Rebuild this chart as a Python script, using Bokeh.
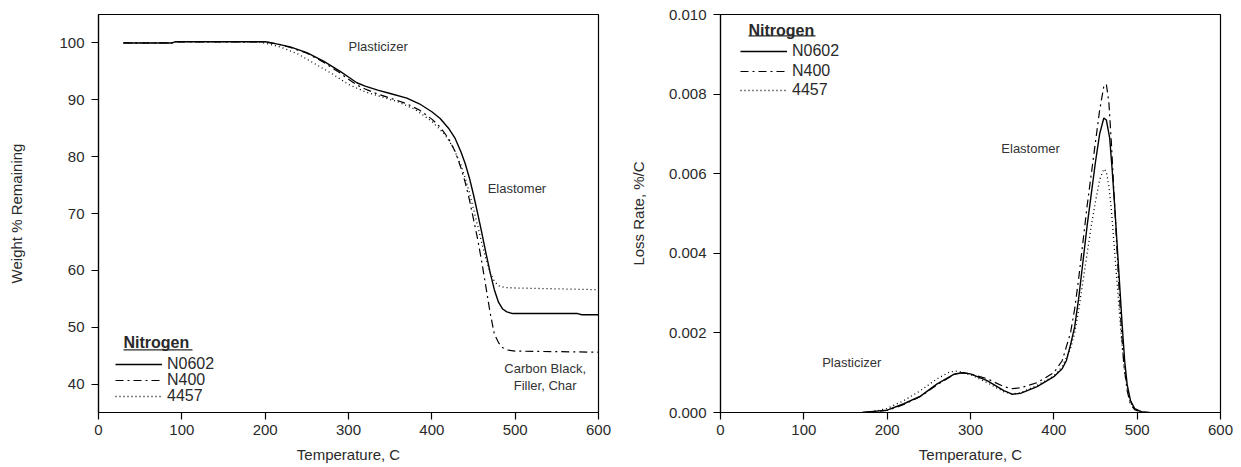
from bokeh.plotting import figure
from bokeh.layouts import row
from bokeh.models import (Legend, LegendItem, Label, BoxAnnotation, FixedTicker,
                          PrintfTickFormatter)
from bokeh.core.properties import value
from bokeh.embed import file_html
from bokeh.resources import INLINE

FONT = "Liberation Sans"

# ---------------- data: TGA weight % remaining ----------------
series_names = ["N0602", "N400", "4457"]

tga_n0602_t = [30, 88, 92, 200, 215, 230, 250, 270, 290, 300, 310, 320, 335, 350, 370, 385,
               400, 410, 420, 428, 435, 440, 445, 450, 455, 460, 465, 470, 475, 480, 485,
               490, 497, 575, 580, 600]
tga_n0602_w = [100.0, 100.0, 100.2, 100.2, 99.8, 99.3, 98.3, 96.8, 95.0, 94.0, 93.0, 92.4,
               91.7, 91.1, 90.3, 89.3, 87.9, 86.7, 85.0, 83.2, 80.8, 78.8, 76.3, 73.3, 70.0,
               66.6, 63.0, 59.6, 56.6, 54.4, 53.2, 52.7, 52.4, 52.4, 52.2, 52.2]

tga_n400_t = [30, 88, 92, 200, 215, 230, 250, 270, 290, 300, 310, 320, 335, 350, 370, 385,
              400, 410, 420, 428, 435, 440, 445, 450, 455, 460, 465, 470, 475, 480, 485,
              490, 500, 600]
tga_n400_w = [100.0, 100.0, 100.2, 100.2, 99.8, 99.2, 98.2, 96.6, 94.7, 93.6, 92.6, 91.9,
              91.0, 90.3, 89.3, 88.2, 86.6, 85.2, 83.2, 80.9, 78.0, 75.5, 72.5, 69.0, 65.5,
              61.4, 57.0, 52.5, 48.8, 47.3, 46.4, 46.0, 45.8, 45.6]

tga_4457_t = [30, 88, 92, 190, 205, 220, 240, 260, 280, 300, 320, 340, 360, 380, 400, 415,
              425, 435, 440, 445, 450, 455, 460, 465, 470, 475, 480, 487, 500, 600]
tga_4457_w = [100.0, 100.0, 100.2, 100.2, 99.8, 99.2, 98.0, 96.3, 94.6, 92.7, 91.4, 90.5,
              89.6, 88.3, 86.2, 84.0, 81.8, 78.5, 76.3, 73.7, 70.8, 67.8, 64.8, 62.0, 59.6,
              58.1, 57.3, 57.0, 56.9, 56.6]

# ---------------- data: DTG loss rate %/C ----------------
dtg_n0602_t = [170, 200, 220, 240, 260, 280, 290, 300, 320, 340, 350, 360, 380, 400, 410,
               415, 420, 425, 430, 435, 440, 445, 450, 455, 460, 463, 467, 470, 473, 476,
               479, 482, 485, 488, 492, 497, 505, 515]
dtg_n0602_r = [0.0, 0.00006, 0.00022, 0.00041, 0.00072, 0.00096, 0.00100, 0.00097, 0.00080,
               0.00055, 0.00046, 0.00048, 0.00065, 0.00090, 0.00110, 0.00130, 0.00170,
               0.00215, 0.00290, 0.00380, 0.00470, 0.00550, 0.00630, 0.00700, 0.00740,
               0.00735, 0.00690, 0.00610, 0.00520, 0.00420, 0.00320, 0.00220, 0.00130,
               0.00070, 0.00030, 0.00010, 0.00002, 0.0]

dtg_n400_t = [170, 200, 220, 240, 260, 280, 290, 300, 320, 340, 350, 360, 380, 400, 410,
              420, 425, 430, 435, 440, 445, 450, 455, 460, 463, 466, 469, 472, 475, 478,
              481, 484, 488, 492, 497, 505]
dtg_n400_r = [0.0, 0.00005, 0.00020, 0.00040, 0.00070, 0.00095, 0.00100, 0.00097, 0.00085,
              0.00065, 0.00060, 0.00062, 0.00075, 0.00100, 0.00130, 0.00200, 0.00260,
              0.00340, 0.00430, 0.00520, 0.00600, 0.00680, 0.00760, 0.00820, 0.00825,
              0.00780, 0.00680, 0.00560, 0.00440, 0.00320, 0.00210, 0.00120, 0.00055,
              0.00020, 0.00007, 0.0]

dtg_4457_t = [175, 190, 200, 220, 240, 260, 275, 285, 300, 320, 340, 350, 360, 380, 400, 410,
              420, 425, 430, 435, 440, 445, 450, 455, 460, 463, 466, 469, 472, 475, 478,
              481, 484, 488, 492, 497, 505]
dtg_4457_r = [0.0, 0.00005, 0.00010, 0.00030, 0.00055, 0.00085, 0.00102, 0.00104, 0.00095,
              0.00075, 0.00052, 0.00046, 0.00050, 0.00068, 0.00092, 0.00115, 0.00160,
              0.00200, 0.00260, 0.00330, 0.00400, 0.00470, 0.00530, 0.00585, 0.00612,
              0.00605, 0.00570, 0.00510, 0.00430, 0.00350, 0.00270, 0.00190, 0.00120,
              0.00060, 0.00025, 0.00008, 0.0]

# ---------------- ticks & annotations ----------------
x_ticks = [0, 100, 200, 300, 400, 500, 600]
tga_y_ticks = [40, 50, 60, 70, 80, 90, 100]
dtg_y_ticks = [0.000, 0.002, 0.004, 0.006, 0.008, 0.010]

tga_notes = ["Plasticizer", "Elastomer", "Carbon Black,", "Filler, Char"]
tga_notes_x = [300, 467, 536, 536]
tga_notes_y = [99.3, 74.4, 42.7, 39.7]
tga_notes_align = ["left", "left", "center", "center"]

dtg_notes = ["Elastomer", "Plasticizer"]
dtg_notes_x = [337, 122]
dtg_notes_y = [0.00664, 0.00125]

STYLES = {"N0602": dict(line_dash="solid", line_width=1.4),
          "N400": dict(line_dash="8 4 2 4", line_width=1.2),
          "4457": dict(line_dash="1 3", line_width=1.3)}


def style_axes(p, ylabel, y_ticks, y_standoff, fmt=None):
    p.outline_line_color = "black"
    p.outline_line_width = 1.2
    p.xgrid.visible = False
    p.ygrid.visible = False
    p.xaxis.ticker = FixedTicker(ticks=x_ticks)
    p.yaxis.ticker = FixedTicker(ticks=y_ticks)
    if fmt is not None:
        p.yaxis.formatter = fmt
    for ax in (p.xaxis, p.yaxis):
        ax.axis_line_color = "black"
        ax.axis_line_width = 1.2
        ax.major_tick_line_color = "black"
        ax.major_tick_line_width = 1.2
        ax.major_tick_in = 0
        ax.major_tick_out = 7
        ax.minor_tick_line_color = None
        ax.major_label_text_font = FONT
        ax.major_label_text_font_size = "15px"
        ax.major_label_text_color = "#2a2a2a"
        ax.axis_label_text_font = FONT
        ax.axis_label_text_font_size = "15px"
        ax.axis_label_text_font_style = "normal"
        ax.axis_label_text_color = "#2a2a2a"
    p.xaxis.major_label_standoff = 5
    p.yaxis.major_label_standoff = 7
    p.xaxis.axis_label = "Temperature, C"
    p.xaxis.axis_label_standoff = 8
    p.yaxis.axis_label = ylabel
    p.yaxis.axis_label_standoff = y_standoff


ROW_H = 19  # rendered height of one legend row


def add_legend(p, renderers, x0, centers, title_xy, underline):
    # one single-item legend per series so each row sits exactly where the reference has it
    for name, r, cy in zip(series_names, renderers, centers):
        leg = Legend(items=[LegendItem(label=name, renderers=[r])],
                     location=(x0, cy - ROW_H / 2), orientation="vertical", padding=0,
                     margin=0, spacing=0, glyph_width=47, glyph_height=16, label_height=16,
                     label_standoff=5, border_line_alpha=0, background_fill_alpha=0,
                     label_text_font=FONT, label_text_font_size="16px",
                     label_text_color="#2a2a2a")
        p.add_layout(leg)
    p.add_layout(Label(x=title_xy[0], y=title_xy[1], x_units="screen", y_units="screen",
                       text="Nitrogen", text_font=FONT, text_font_size="16px",
                       text_font_style="bold", text_color="#2a2a2a",
                       text_baseline="middle", text_align="left"))
    l, r, b = underline
    p.add_layout(BoxAnnotation(left=l, right=r, bottom=b, top=b + 1.3,
                               left_units="screen", right_units="screen",
                               bottom_units="screen", top_units="screen",
                               fill_color="#2a2a2a", fill_alpha=1, line_alpha=0))


# ---------------- left: TGA ----------------
p1 = figure(width=620, height=467, x_range=(0, 600), y_range=(35, 105),
            output_backend="svg", toolbar_location=None,
            min_border_left=98, min_border_right=22, min_border_top=14,
            min_border_bottom=55)
style_axes(p1, "Weight % Remaining", tga_y_ticks, 31)
r1 = []
for name, t, w in [("N0602", tga_n0602_t, tga_n0602_w), ("N400", tga_n400_t, tga_n400_w),
                   ("4457", tga_4457_t, tga_4457_w)]:
    r1.append(p1.line(t, w, line_color="black", **STYLES[name]))
p1.text(x=tga_notes_x, y=tga_notes_y, text=tga_notes, text_font=value(FONT),
        text_font_size="13px", text_color="#333333", text_baseline="middle",
        text_align=tga_notes_align)
# row centres measured from frame bottom (screen px)
add_legend(p1, r1, 17, [49, 33, 17], (25, 70), (25, 94, 62))

# ---------------- right: DTG ----------------
p2 = figure(width=621, height=467, x_range=(0, 600), y_range=(0, 0.010),
            output_backend="svg", toolbar_location=None,
            min_border_left=100, min_border_right=21, min_border_top=14,
            min_border_bottom=55)
style_axes(p2, "Loss Rate, %/C", dtg_y_ticks, 19, PrintfTickFormatter(format="%.3f"))
r2 = []
for name, t, v in [("N0602", dtg_n0602_t, dtg_n0602_r), ("N400", dtg_n400_t, dtg_n400_r),
                   ("4457", dtg_4457_t, dtg_4457_r)]:
    r2.append(p2.line(t, v, line_color="black", **STYLES[name]))
p2.text(x=dtg_notes_x, y=dtg_notes_y, text=dtg_notes, text_font=value(FONT),
        text_font_size="13px", text_color="#333333", text_baseline="middle",
        text_align="left")
add_legend(p2, r2, 20, [362, 342, 323], (28, 382), (28, 95, 376))

layout = row(p1, p2)
open("out.html", "w").write(file_html(layout, INLINE))
